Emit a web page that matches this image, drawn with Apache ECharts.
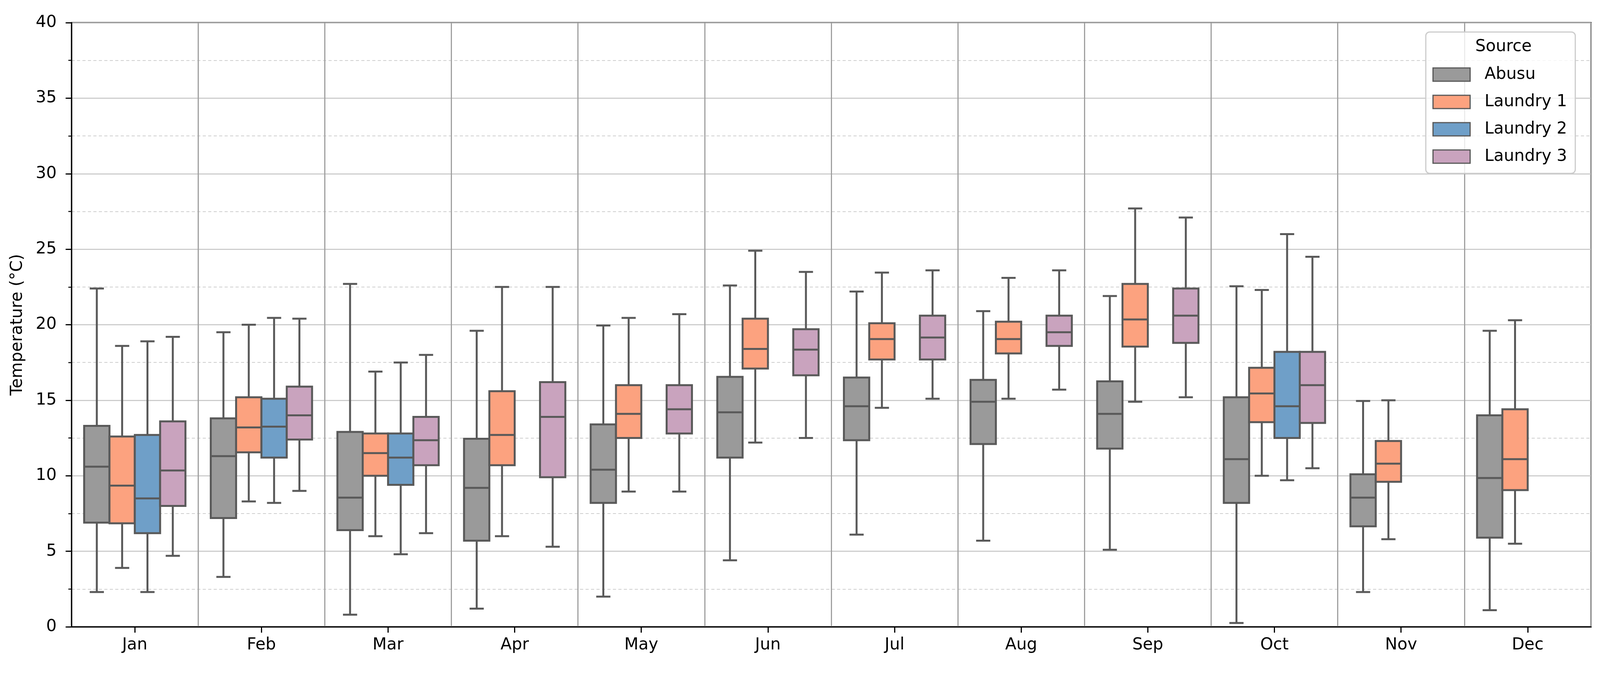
<!DOCTYPE html>
<html><head><meta charset="utf-8">
<script src="https://cdn.jsdelivr.net/npm/echarts@6/dist/echarts.min.js"></script>
<style>html,body{margin:0;padding:0;background:#fff}#c{width:4110px;height:1731px}</style>
</head><body><div id="c"></div>
<script>
// Each item: [lower whisker, Q1, median, Q3, upper whisker]
const months = ['Jan','Feb','Mar','Apr','May','Jun','Jul','Aug','Sep','Oct','Nov','Dec'];
const sources = ['Abusu','Laundry 1','Laundry 2','Laundry 3'];
const abusu = [
  [2.3, 6.9, 10.6, 13.3, 22.4],
  [3.3, 7.2, 11.3, 13.8, 19.5],
  [0.8, 6.4, 8.55, 12.9, 22.7],
  [1.2, 5.7, 9.2, 12.45, 19.6],
  [2.0, 8.2, 10.4, 13.4, 19.95],
  [4.4, 11.2, 14.2, 16.55, 22.6],
  [6.1, 12.35, 14.6, 16.5, 22.2],
  [5.7, 12.1, 14.9, 16.35, 20.9],
  [5.1, 11.8, 14.1, 16.25, 21.9],
  [0.25, 8.2, 11.1, 15.2, 22.55],
  [2.3, 6.65, 8.55, 10.1, 14.95],
  [1.1, 5.9, 9.85, 14.0, 19.6]
];
const laundry1 = [
  [3.9, 6.85, 9.35, 12.6, 18.6],
  [8.3, 11.55, 13.2, 15.2, 20.0],
  [6.0, 10.0, 11.5, 12.8, 16.9],
  [6.0, 10.7, 12.7, 15.6, 22.5],
  [8.95, 12.5, 14.1, 16.0, 20.45],
  [12.2, 17.1, 18.4, 20.4, 24.9],
  [14.5, 17.7, 19.05, 20.1, 23.45],
  [15.1, 18.1, 19.05, 20.2, 23.1],
  [14.9, 18.55, 20.35, 22.7, 27.7],
  [10.0, 13.55, 15.45, 17.15, 22.3],
  [5.8, 9.6, 10.8, 12.3, 15.0],
  [5.5, 9.05, 11.1, 14.4, 20.3]
];
const laundry2 = [
  [2.3, 6.2, 8.5, 12.7, 18.9],
  [8.2, 11.2, 13.25, 15.1, 20.45],
  [4.8, 9.4, 11.2, 12.8, 17.5],
  null, null, null, null, null, null,
  [9.7, 12.5, 14.6, 18.2, 26.0],
  null, null
];
const laundry3 = [
  [4.7, 8.0, 10.35, 13.6, 19.2],
  [9.0, 12.4, 14.0, 15.9, 20.4],
  [6.2, 10.7, 12.35, 13.9, 18.0],
  [5.3, 9.9, 13.9, 16.2, 22.5],
  [8.95, 12.8, 14.4, 16.0, 20.7],
  [12.5, 16.65, 18.35, 19.7, 23.5],
  [15.1, 17.7, 19.15, 20.6, 23.6],
  [15.7, 18.6, 19.5, 20.6, 23.6],
  [15.2, 18.8, 20.6, 22.4, 27.1],
  [10.5, 13.5, 16.0, 18.2, 24.5],
  null, null
];

const FONT = 'DejaVu Sans';
const fills = ['#9a9a9a', '#fca27f', '#6f9fc8', '#c9a3be'];
const edge = '#595959';
const lw = 5;

function renderBox(s) {
  return function (params, api) {
    const i = api.value(0);
    const band = api.size([1, 0])[0];
    const w = 0.2 * band;
    const cx = api.coord([i, 0])[0] + (s - 1.5) * w;
    const y = k => api.coord([i, api.value(k)])[1];
    const yLow = y(1), yQ1 = y(2), yMed = y(3), yQ3 = y(4), yHigh = y(5);
    const cap = w * 0.56;
    const ls = { stroke: edge, lineWidth: lw };
    return {
      type: 'group',
      children: [
        { type: 'line', shape: { x1: cx, y1: yQ3, x2: cx, y2: yHigh }, style: ls },
        { type: 'line', shape: { x1: cx, y1: yQ1, x2: cx, y2: yLow }, style: ls },
        { type: 'line', shape: { x1: cx - cap / 2, y1: yHigh, x2: cx + cap / 2, y2: yHigh }, style: ls },
        { type: 'line', shape: { x1: cx - cap / 2, y1: yLow, x2: cx + cap / 2, y2: yLow }, style: ls },
        { type: 'rect', shape: { x: cx - w / 2, y: yQ3, width: w, height: yQ1 - yQ3 },
          style: { fill: fills[s], stroke: edge, lineWidth: lw } },
        { type: 'line', shape: { x1: cx - w / 2, y1: yMed, x2: cx + w / 2, y2: yMed }, style: ls }
      ]
    };
  };
}

const seriesArrays = [abusu, laundry1, laundry2, laundry3];
const series = seriesArrays.map((arr, s) => ({
  type: 'custom',
  name: sources[s],
  itemStyle: { color: fills[s], borderColor: edge, borderWidth: 3 },
  dimensions: ['month', 'low', 'q1', 'median', 'q3', 'high'],
  encode: { x: 0, y: [1, 2, 3, 4, 5] },
  data: arr.map((v, i) => (v ? [i].concat(v) : null)).filter(Boolean),
  renderItem: renderBox(s),
  z: 3
}));

const chart = echarts.init(document.getElementById('c'), null, { renderer: 'canvas' });
chart.setOption({
  animation: false,
  backgroundColor: '#ffffff',
  textStyle: { fontFamily: FONT },
  grid: { left: 183, right: 37, top: 58, bottom: 126, show: true, borderColor: '#000', borderWidth: 3,
          containLabel: false, outerBoundsMode: 'none' },
  legend: {
    data: sources, orient: 'vertical', left: 3650, top: 82,
    padding: [84, 21, 18, 17],
    itemWidth: 95, itemHeight: 34, itemGap: 20,
    icon: 'rect',
    itemStyle: { borderColor: edge, borderWidth: 3 },
    textStyle: { fontSize: 42, color: '#000', fontFamily: FONT, padding: [0, 0, 0, 32], lineHeight: 50 },
    backgroundColor: 'rgba(255,255,255,0.8)', borderColor: '#cccccc', borderWidth: 3, borderRadius: 10,
    selectedMode: false
  },
  graphic: [{
    type: 'text', x: 3849, y: 120, z: 100,
    style: { text: 'Source', fontSize: 42, fontFamily: FONT, fill: '#000', align: 'center', verticalAlign: 'middle' }
  }],
  xAxis: {
    type: 'category', data: months, boundaryGap: true,
    axisLine: { lineStyle: { color: '#000', width: 3 } },
    axisTick: { show: true, alignWithLabel: true, length: 15, lineStyle: { color: '#000', width: 3 } },
    axisLabel: { fontSize: 42, color: '#000', fontFamily: FONT, margin: 26 },
    splitLine: { show: true, lineStyle: { color: '#a0a0a0', width: 3 } }
  },
  yAxis: {
    type: 'value', min: 0, max: 40, interval: 5,
    name: 'Temperature (°C)', nameLocation: 'middle', nameGap: 117,
    nameTextStyle: { fontSize: 42, color: '#000', fontFamily: FONT },
    axisLine: { show: true, lineStyle: { color: '#000', width: 3 } },
    axisTick: { show: true, length: 15, lineStyle: { color: '#000', width: 3 } },
    minorTick: { show: true, splitNumber: 2, length: 8, lineStyle: { color: '#000', width: 2.5 } },
    axisLabel: { fontSize: 42, color: '#000', fontFamily: FONT, margin: 38 },
    splitLine: { show: true, lineStyle: { color: '#c4c4c4', width: 2.5 } },
    minorSplitLine: { show: true, lineStyle: { color: '#cfcfcf', width: 2, type: [8, 6] } }
  },
  series: series
});
</script>
</body></html>
